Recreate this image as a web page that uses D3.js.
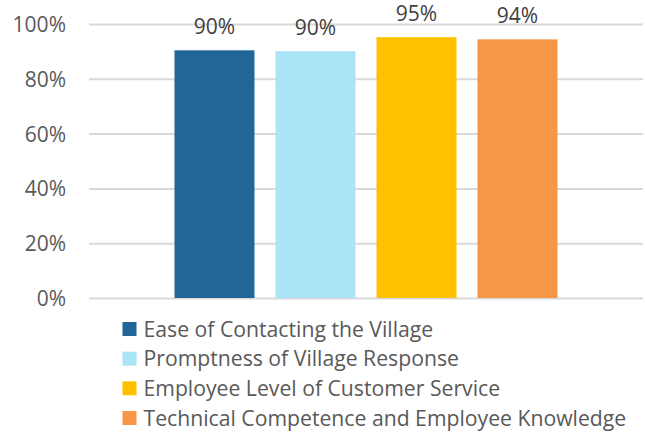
<!DOCTYPE html>
<html>
<head>
<meta charset="utf-8">
<script src="https://cdn.jsdelivr.net/npm/d3@7"></script>
<style>
  html, body { margin: 0; padding: 0; background: #fff; }
  svg { display: block; }
  text { font-family: "Open Sans", "Noto Sans", sans-serif; }
</style>
</head>
<body>
<svg id="chart" width="645" height="432"></svg>
<script>
// ---- data ----
const categories = ["Overall"];
const seriesNames = [
  "Ease of Contacting the Village",
  "Promptness of Village Response",
  "Employee Level of Customer Service",
  "Technical Competence and Employee Knowledge"
];
const seriesValues = [0.904, 0.901, 0.952, 0.944];
const seriesColors = ["#206699", "#A9E4F7", "#FFC000", "#F79646"];
const yTickValues = [0, 0.2, 0.4, 0.6, 0.8, 1.0];

// ---- layout ----
const plot = { left: 89, right: 643, top: 24, bottom: 298 };

const svg = d3.select("#chart");

const y = d3.scaleLinear().domain([0, 1]).range([plot.bottom, plot.top]);

const x0 = d3.scaleBand()
  .domain(categories)
  .range([plot.left, plot.right])
  .paddingInner(0)
  .paddingOuter(0.1856);

const x1 = d3.scaleBand()
  .domain(seriesNames)
  .range([0, x0.bandwidth()])
  .paddingInner(0.208)
  .paddingOuter(0.104);

// gridlines + y tick labels
const yAxis = d3.axisLeft(y)
  .tickValues(yTickValues)
  .tickFormat(d3.format(".0%"))
  .tickSize(-(plot.right - plot.left))
  .tickPadding(23);

const gy = svg.append("g")
  .attr("transform", `translate(${plot.left},0)`)
  .call(yAxis);
gy.select(".domain").remove();
gy.selectAll(".tick line")
  .attr("stroke", "#D9D9D9")
  .attr("stroke-width", 2);
gy.selectAll(".tick text")
  .attr("fill", "#595959")
  .attr("font-size", 21)
  .attr("dy", "0.36em")
  .style("font-family", "'Open Sans', sans-serif");

// bars
const data = seriesNames.map((s, i) => ({ cat: categories[0], name: s, value: seriesValues[i], color: seriesColors[i] }));

const gBars = svg.append("g");
gBars.selectAll("rect")
  .data(data)
  .join("rect")
  .attr("x", d => x0(d.cat) + x1(d.name))
  .attr("width", x1.bandwidth())
  .attr("y", d => y(d.value))
  .attr("height", d => y(0) - y(d.value))
  .attr("fill", d => d.color);

// data labels
gBars.selectAll("text.lbl")
  .data(data)
  .join("text")
  .attr("class", "lbl")
  .attr("x", d => x0(d.cat) + x1(d.name) + x1.bandwidth() / 2)
  .attr("y", d => y(d.value) - 16)
  .attr("text-anchor", "middle")
  .attr("font-size", 21)
  .attr("fill", "#404040")
  .text(d => d3.format(".0%")(d.value));

// legend
const legend = svg.append("g");
const rowY = d3.scaleLinear().domain([0, 3]).range([329, 418]);
const items = legend.selectAll("g")
  .data(data)
  .join("g")
  .attr("transform", (d, i) => `translate(122.5,${rowY(i)})`);
items.append("rect")
  .attr("x", 0).attr("y", -7)
  .attr("width", 14).attr("height", 14)
  .attr("fill", d => d.color);
items.append("text")
  .attr("x", 21)
  .attr("y", 0)
  .attr("dy", "0.36em")
  .attr("font-size", 21.2)
  .attr("fill", "#595959")
  .text(d => d.name);
</script>
</body>
</html>
